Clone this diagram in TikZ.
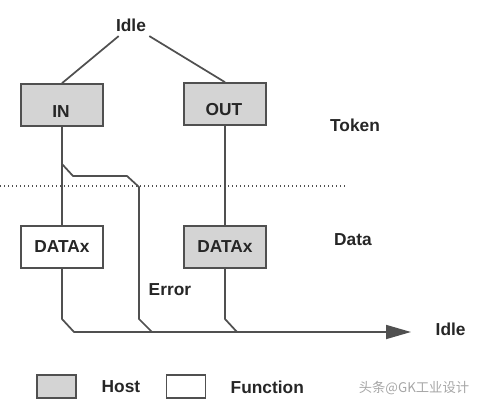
\documentclass[tikz,border=0pt]{standalone}
\usepackage{fontspec}
\setmainfont{Liberation Sans}
\newfontfamily\cjkfont{Noto Sans CJK SC}
\usetikzlibrary{arrows.meta}

\definecolor{linegray}{HTML}{505050}
\definecolor{hostgray}{HTML}{D4D4D4}

\tikzset{
    every node/.style={font=\fontsize{13pt}{15pt}\selectfont\bfseries, text=black!85},
    unitbox/.style={draw=linegray, line width=1.2pt, minimum width=61.5pt, minimum height=31.5pt, inner sep=0pt},
    hostbox/.style={unitbox, fill=hostgray},
    funcbox/.style={unitbox, fill=white},
    keybox/.style={draw=linegray, line width=1.2pt, minimum width=29pt, minimum height=17pt, inner sep=0pt},
    wire/.style={draw=linegray, line width=1.3pt}
}

\begin{document}
\begin{tikzpicture}[x=0.75pt, y=-0.75pt]
        \useasboundingbox (0,0) rectangle (492,407);

        % token boxes
        \node (idleTop) at (131,25) {Idle};
        \node[hostbox] (in) at (62,105) {};
        \node at (61,112) {IN};
        \node[hostbox] (out) at (225,104) {};
        \node at (224,110) {OUT};
        \node (token) at (355,125) {Token};

        % data boxes
        \node[funcbox] (dataL) at (62,247) {DATAx};
        \node[hostbox] (dataR) at (225,247) {DATAx};
        \node (data) at (353,240) {Data};

        % phase separator
        \draw[linegray, line width=1pt, dotted] (0,186) -- (345,186);

        % idle to token
        \draw[wire] ([xshift=5.5pt]idleTop.south west) -- (in.north);
        \draw[wire] ([xshift=-1pt]idleTop.south east) -- (out.north);

        % token to data
        \draw[wire] (in.south) -- (dataL.north);
        \draw[wire] (out.south) -- (dataR.north);

        % error branch
        \coordinate (brk) at (62,164);
        \coordinate (errEnd) at (152,332);
        \draw[wire] (brk) -- (73,176) -- (127,176) -- (139,187) -- (139,319) -- (errEnd);
        \node[anchor=west] (error) at (144,290) {Error};

        % back to idle
        \coordinate (tip) at (411,332);
        \draw[wire, -{Triangle[length=18.75pt,width=10.5pt]}] (dataL.south) -- (62,319) -- (74,332) -- (tip);
        \draw[wire] (dataR.south) -- (225,319) -- (237,332);
        \node[anchor=west] (idleEnd) at (431,329) {Idle};

        % legend
        \node[keybox, fill=hostgray] (hostKey) at (56.5,386.5) {};
        \node[anchor=west] (hostText) at (97,387) {Host};
        \node[keybox, fill=white] (funcKey) at (186,386.5) {};
        \node[anchor=west] (funcText) at (226,387) {Function};

        \node[font=\cjkfont\fontsize{10pt}{12pt}\selectfont, text=black!35] (mark) at (414,388) {头条@GK工业设计};
    \end{tikzpicture}
\end{document}
